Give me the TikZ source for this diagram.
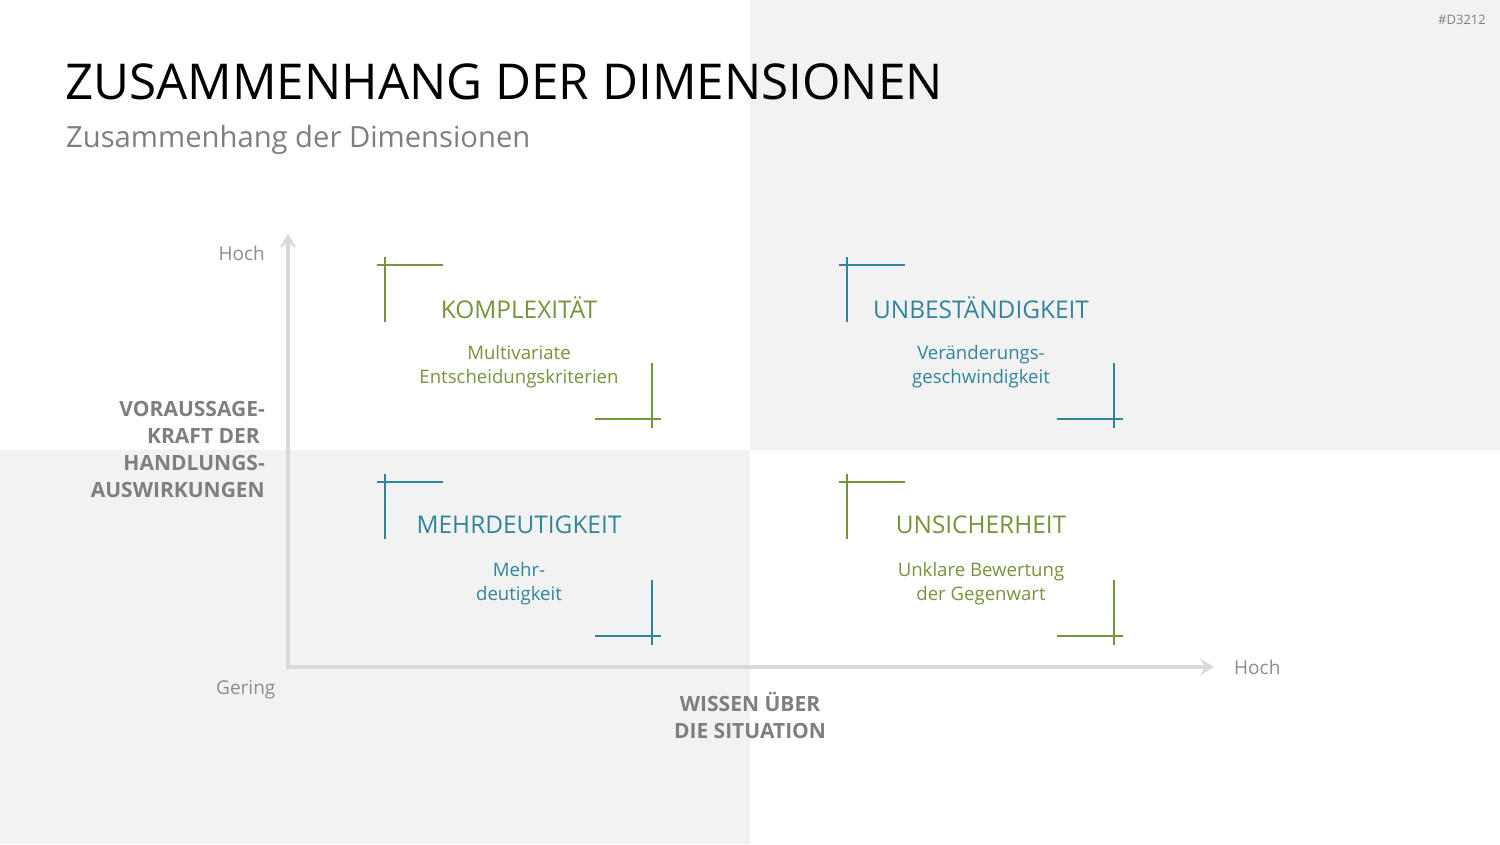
\documentclass[tikz,border=0pt]{standalone}
\usepackage{fontspec}
\setmainfont{Open Sans}
\usetikzlibrary{arrows.meta}
\definecolor{bggrey}{RGB}{242,242,242}
\definecolor{axisgrey}{RGB}{217,217,217}
\definecolor{txtgrey}{RGB}{127,127,127}
\definecolor{lblgrey}{RGB}{140,140,140}
\definecolor{qgreen}{RGB}{119,147,60}
\definecolor{qblue}{RGB}{49,133,155}
\tikzset{
  axisline/.style={draw=axisgrey,line width=4.5pt,-{Stealth[length=14pt,width=17pt,inset=5pt]}},
  cornerline/.style={line width=2.6pt},
  qtitle/.style={font=\fontsize{24.4}{30}\selectfont,anchor=center},
  qsub/.style={font=\fontsize{18.6}{24}\selectfont,align=center,anchor=center},
  axlbl/.style={font=\fontsize{19}{24}\selectfont,text=lblgrey},
  axname/.style={font=\bfseries\fontsize{21}{27}\selectfont,text=txtgrey}
}
\begin{document}
\begin{tikzpicture}[x=1pt,y=-1pt,inner sep=0pt]
\useasboundingbox (0,0) rectangle (1500,844);
% backgrounds
\fill[white] (0,0) rectangle (1500,844);
\fill[bggrey] (750,0) rectangle (1500,450);
\fill[bggrey] (0,450) rectangle (750,844);
% header
\node[anchor=west,font=\fontsize{49.4}{56}\selectfont] (title) at (65,82) {ZUSAMMENHANG DER DIMENSIONEN};
\node[anchor=west,font=\fontsize{29.2}{36}\selectfont,text=txtgrey] (subtitle) at (66,140) {Zusammenhang der Dimensionen};
\node[anchor=east,font=\fontsize{13}{15}\selectfont,text=txtgrey] (code) at (1486,20) {\#D3212};
% axes
\coordinate (origin) at (288,667);
\coordinate (ytip) at (288,234);
\coordinate (xtip) at (1214,667);
\draw[axisline] (288,669.25) -- (ytip);
\draw[axisline] (285.75,667) -- (xtip);
\node[axlbl,anchor=east] (yhigh) at (265,253) {Hoch};
\node[axlbl,anchor=west] (ylow) at (216,690) {Gering};
\node[axlbl,anchor=west] (xhigh) at (1234,667) {Hoch};
\node[axname,anchor=east,align=right] (yname) at (265,449.5) {VORAUSSAGE-\\KRAFT DER\rule{5pt}{0pt}\\HANDLUNGS-\\AUSWIRKUNGEN};
\node[axname,align=center] (xname) at (750,715) {WISSEN ÜBER\\DIE SITUATION};
% quadrants
\foreach \qx/\qy/\col in {0/0/qgreen,462/0/qblue,0/217/qblue,462/217/qgreen}{
  \begin{scope}[shift={(\qx,\qy)}]
    \draw[cornerline,\col] (385,257) -- (385,322);
    \draw[cornerline,\col] (377,265) -- (443,265);
    \draw[cornerline,\col] (652,363) -- (652,428);
    \draw[cornerline,\col] (595,419) -- (661,419);
  \end{scope}
}
\node[qtitle,text=qgreen] (komp) at (519,308) {KOMPLEXITÄT};
\node[qsub,text=qgreen] (kompsub) at (519,367) {Multivariate\\Entscheidungskriterien};
\node[qtitle,text=qblue] (unb) at (981,308) {UNBESTÄNDIGKEIT};
\node[qsub,text=qblue] (unbsub) at (981,367) {Veränderungs-\\geschwindigkeit};
\node[qtitle,text=qblue] (mehr) at (519,525) {MEHRDEUTIGKEIT};
\node[qsub,text=qblue] (mehrsub) at (519,584) {Mehr-\\deutigkeit};
\node[qtitle,text=qgreen] (uns) at (981,525) {UNSICHERHEIT};
\node[qsub,text=qgreen] (unssub) at (981,584) {Unklare Bewertung\\der Gegenwart};
\end{tikzpicture}
\end{document}
